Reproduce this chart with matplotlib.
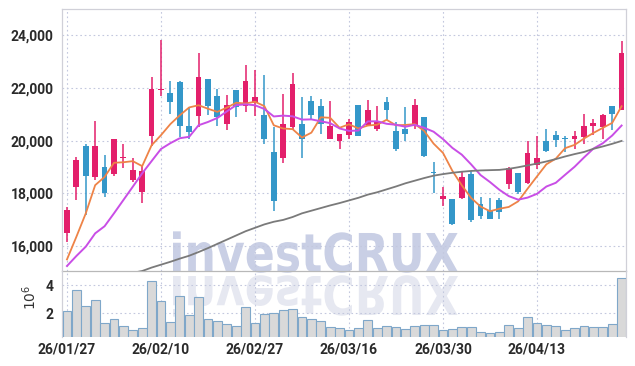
import numpy as np
import pandas as pd
import matplotlib
matplotlib.use('Agg')
import matplotlib.pyplot as plt
from matplotlib.textpath import TextPath
from matplotlib.patches import PathPatch
from matplotlib.font_manager import FontProperties
from matplotlib.transforms import Affine2D
from matplotlib.ticker import FuncFormatter

# daily OHLC, 60 sessions 26/01/27 .. 26/04/24
opens = [16480, 18250, 19790, 18630, 19010, 18730, 19330, 18500, 18060, 20180,
         21920, 21810, 22220, 20550, 20930, 22330, 21690, 20630, 21910, 21310,
         21430, 20970, 19560, 19360, 20500, 20650, 21500, 21310, 20070, 19970,
         20210, 21350, 20590, 20430, 21470, 20360, 20440, 20550, 20880, 18790,
         17780, 17790, 17830, 18720, 17580, 17370, 17750, 18340, 18760, 18380,
         19070, 19980, 20210, 20080, 20050, 20150, 20550, 20520, 21310, 21160]
highs = [17490, 19390, 19890, 20740, 19450, 20080, 19890, 19340, 19070, 22420,
         23810, 22260, 22270, 21260, 23340, 22330, 21980, 21730, 21920, 22860,
         22700, 22480, 20520, 21760, 22570, 21640, 21690, 21570, 21500, 20270,
         20840, 21370, 21540, 21310, 21640, 20710, 21260, 21600, 20880, 19200,
         18230, 17800, 18820, 18860, 17850, 17810, 17810, 19010, 18770, 19990,
         20180, 20430, 20360, 20170, 20370, 21030, 20830, 21030, 21320, 23780]
lows = [16170, 17750, 17180, 18500, 17870, 18670, 18950, 18430, 17620, 19790,
        21700, 21030, 20120, 20060, 20520, 20970, 20550, 20400, 20880, 21090,
        20930, 19890, 17340, 19140, 20400, 19360, 20780, 20250, 20070, 19670,
        20050, 20170, 20550, 20370, 20780, 19610, 19990, 20460, 19390, 18020,
        17520, 16800, 17780, 16900, 17020, 17010, 17040, 18150, 17970, 18370,
        18920, 19580, 19770, 19580, 19700, 19870, 20210, 20060, 20400, 21150]
closes = [17370, 19260, 18670, 19790, 18020, 20060, 19360, 18880, 18840, 21980,
          21980, 21470, 20550, 20330, 22400, 21310, 20880, 21350, 21260, 22260,
          21640, 20050, 17710, 20650, 22140, 20050, 20970, 20630, 20550, 20250,
          20710, 20180, 21180, 20710, 21180, 19670, 20240, 21350, 19410, 18770,
          17910, 16830, 18610, 16990, 17150, 17020, 17300, 18950, 18060, 19550,
          19350, 19600, 20020, 20060, 20170, 20550, 20660, 20990, 21000, 23340]
# volume in millions
volume = [2.16, 3.65, 2.52, 2.94, 1.29, 1.60, 1.10, 0.80, 0.96, 4.28,
          2.87, 1.36, 3.22, 1.88, 3.13, 1.60, 1.46, 1.22, 1.10, 2.44,
          1.29, 1.93, 2.00, 2.21, 2.28, 1.74, 1.60, 1.43, 1.03, 0.94,
          0.80, 0.94, 1.50, 0.94, 1.08, 1.01, 0.87, 1.10, 1.15, 1.15,
          0.80, 0.87, 1.01, 1.01, 0.70, 0.59, 0.66, 1.15, 0.94, 1.72,
          1.29, 1.15, 1.08, 0.80, 0.94, 1.10, 1.03, 1.03, 1.22, 4.47]

# first MA points depend on sessions before the window
ma5_head = [15490, 16350, 17240, 18310]
ma10_head = [15240, 15620, 15975, 16480, 16750, 17240, 17745, 18250, 18760]
# long MA (gray), from session 7 on
ma_long = [14980, 15050, 15180, 15290, 15400, 15520, 15630, 15770, 15920, 16080,
           16240, 16400, 16560, 16690, 16820, 16920, 16990, 17100, 17240, 17340,
           17440, 17540, 17630, 17730, 17830, 17950, 18040, 18150, 18260, 18380,
           18480, 18580, 18670, 18730, 18780, 18820, 18850, 18870, 18880, 18890,
           18930, 18990, 19060, 19130, 19210, 19300, 19400, 19490, 19570, 19690,
           19780, 19880, 19990]
ma_long_start = 7

tick_pos = [0, 10, 20, 30, 40, 50]
tick_labels = ['26/01/27', '26/02/10', '26/02/27', '26/03/16', '26/03/30', '26/04/13']

up_col = '#e31f6b'
down_col = '#3497c9'
grid_col = '#c3c8de'
lab_font = FontProperties(family='Roboto', weight='bold', size=10)

n = len(closes)
x = np.arange(n)
o = np.array(opens, float)
h = np.array(highs, float)
l = np.array(lows, float)
c = np.array(closes, float)

ma5 = pd.Series(c).rolling(5).mean().to_numpy()
ma5[:len(ma5_head)] = ma5_head
ma10 = pd.Series(c).rolling(10).mean().to_numpy()
ma10[:len(ma10_head)] = ma10_head

W, H = 635, 366
fig = plt.figure(figsize=(W / 100, H / 100), dpi=100)
fig.patch.set_facecolor('white')

ax = fig.add_axes([62 / W, 1 - 271 / H, 564 / W, 262 / H])
axv = fig.add_axes([62 / W, 1 - 337 / H, 564 / W, 66 / H], sharex=ax)
for a in (ax, axv):
    a.set_facecolor('none')

# watermark, normal and mirrored, behind the axes
tp = TextPath((0, 0), 'investCRUX', size=100,
              prop=FontProperties(family='DejaVu Sans', weight='bold'))
ext = tp.get_extents()
sx = 285 / ext.width
sy = 39 / 72.9
base = H - 272
t1 = Affine2D().translate(-ext.x0, 0).scale(sx, sy).translate(173, base)
t2 = Affine2D().translate(-ext.x0, 0).scale(sx, -sy).translate(173, base - 4)
fig.patches.append(PathPatch(tp, transform=t1, facecolor='#c9cfe5',
                             edgecolor='none', zorder=-2))
fig.patches.append(PathPatch(tp, transform=t2, facecolor='#e6e8f1',
                             edgecolor='none', zorder=-2))

# candles
up = c >= o
cols = np.where(up, up_col, down_col)
ax.vlines(x, l, h, colors=cols, linewidth=1.1, zorder=3)
body_lo = np.minimum(o, c)
body_h = np.maximum(np.abs(c - o), 45)
ax.bar(x, body_h, bottom=body_lo, width=0.62, color=cols, linewidth=0, zorder=4)

ax.plot(x, ma5, color='#ee8347', linewidth=1.3, zorder=5)
ax.plot(x, ma10, color='#c94ee6', linewidth=1.4, zorder=5)
ax.plot(x[ma_long_start:], ma_long, color='#7a7a7a', linewidth=1.3, zorder=5)

ax.set_xlim(-0.53, 59.47)
ax.set_ylim(15050, 25000)
ax.set_yticks([16000, 18000, 20000, 22000, 24000])
ax.yaxis.set_major_formatter(FuncFormatter(lambda v, p: f'{int(v):,}'))
ax.grid(True, color=grid_col, linestyle=(0, (1.5, 2.5)), linewidth=0.8, zorder=0)
ax.tick_params(axis='y', length=0, pad=6, labelcolor='#2a2a2a')
ax.tick_params(axis='x', length=0, labelbottom=False)
for lab in ax.get_yticklabels():
    lab.set_fontproperties(lab_font)
for s in ax.spines.values():
    s.set_color('#d0d0d8')
    s.set_linewidth(0.9)
ax.spines['bottom'].set_color('#b8b8b8')

# volume
axv.bar(x, volume, width=0.92, color='#d9d9d9', edgecolor='#7fa7c9', linewidth=0.8, zorder=3)
axv.set_ylim(0.33, 5.0)
axv.set_yticks([2, 4])
axv.set_xticks(tick_pos)
axv.set_xticklabels(tick_labels)
axv.grid(True, color=grid_col, linestyle=(0, (1.5, 2.5)), linewidth=0.8, zorder=0)
axv.tick_params(length=0, labelcolor='#2a2a2a')
axv.tick_params(axis='y', pad=6)
axv.tick_params(axis='x', pad=4)
for lab in axv.get_yticklabels() + axv.get_xticklabels():
    lab.set_fontproperties(lab_font)
for s in axv.spines.values():
    s.set_color('#d0d0d8')
    s.set_linewidth(0.9)
axv.spines['top'].set_visible(False)
axv.spines['bottom'].set_visible(False)
fig.text(30 / W, 1 - 297 / H, r'$10^6$', rotation=90, ha='center', va='center',
         fontsize=10, color='#333333')

fig.savefig('out.png', dpi=100)
